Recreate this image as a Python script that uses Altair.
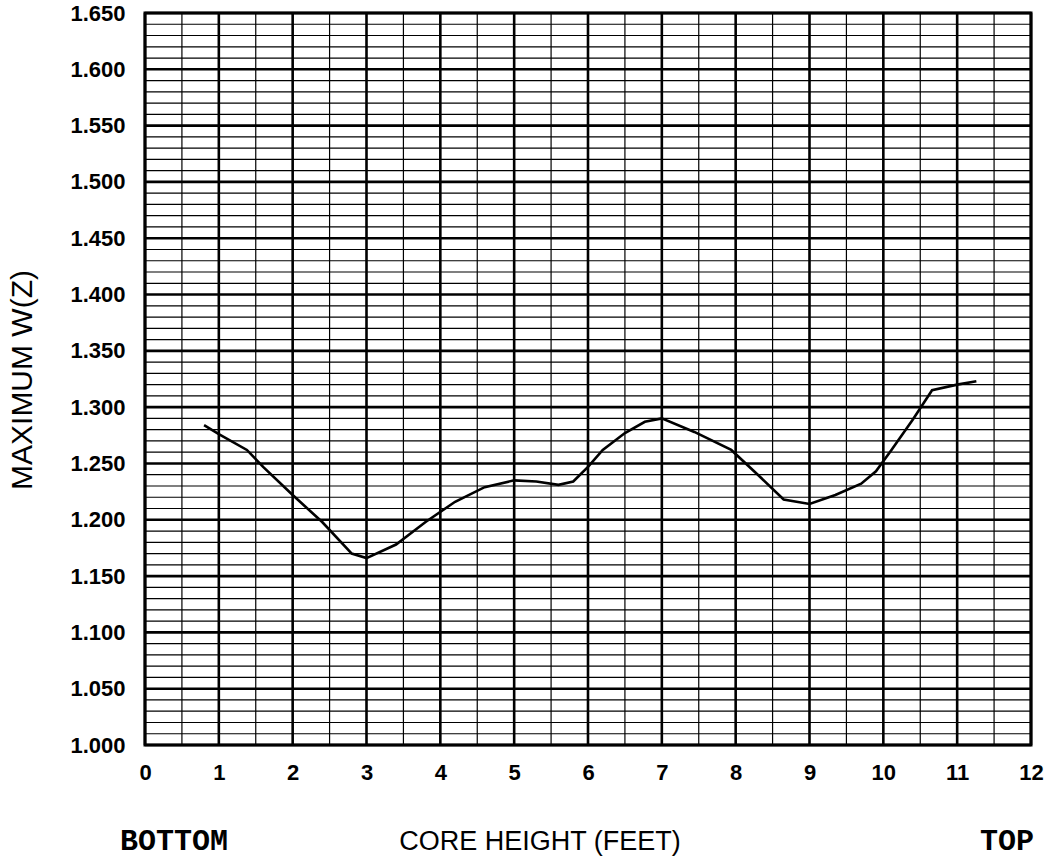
import altair as alt
import numpy as np
import pandas as pd

# Curve data (core height in feet, maximum W(Z))
height_ft = [0.8, 1.0, 1.38, 1.6, 2.0, 2.4, 2.8, 3.0, 3.4, 3.8, 4.2, 4.6, 5.0, 5.3,
             5.6, 5.8, 6.0, 6.2, 6.5, 6.77, 7.0, 7.44, 7.94, 8.3, 8.65, 9.0, 9.35,
             9.7, 9.9, 10.11, 10.4, 10.66, 11.0, 11.26]
max_wz = [1.284, 1.276, 1.262, 1.247, 1.222, 1.198, 1.170, 1.166, 1.178, 1.198,
          1.216, 1.229, 1.235, 1.234, 1.231, 1.234, 1.247, 1.262, 1.277, 1.287,
          1.290, 1.278, 1.262, 1.240, 1.218, 1.214, 1.222, 1.232, 1.243, 1.262,
          1.289, 1.315, 1.320, 1.323]

x_ticks = list(range(0, 13))
y_ticks = [round(1.0 + 0.05 * i, 3) for i in range(14)]

# grid positions
x_major = [float(v) for v in range(0, 13)]
x_minor = [v + 0.5 for v in range(0, 12)]
y_major = y_ticks
y_minor = [round(1.0 + 0.01 * i, 3) for i in range(66) if i % 5 != 0]

W, H = 886, 732
xs = alt.Scale(domain=[0, 12], nice=False, zero=False)
ys = alt.Scale(domain=[1.0, 1.65], nice=False, zero=False)

x_axis = alt.Axis(values=x_ticks, format="d", title=None, grid=False,
                  ticks=False, domain=False, labelFontSize=22,
                  labelFontWeight="bold", labelColor="black",
                  labelPadding=17, labelFlush=False)
y_axis = alt.Axis(values=y_ticks, format=".3f", title=None, grid=False,
                  ticks=False, domain=False, labelFontSize=22,
                  labelFontWeight="bold", labelColor="black",
                  labelPadding=20, labelFlush=False)

curve_df = pd.DataFrame({"x": height_ft, "y": max_wz})

curve = alt.Chart(curve_df).mark_line(color="black", strokeWidth=2.6).encode(
    x=alt.X("x:Q", scale=xs, axis=x_axis),
    y=alt.Y("y:Q", scale=ys, axis=y_axis),
)

ymin = alt.Chart(pd.DataFrame({"v": y_minor})).mark_rule(color="black", strokeWidth=1.2).encode(
    y=alt.Y("v:Q", scale=ys, axis=y_axis))
ymaj = alt.Chart(pd.DataFrame({"v": y_major})).mark_rule(color="black", strokeWidth=2.6).encode(
    y=alt.Y("v:Q", scale=ys, axis=y_axis))
xmin = alt.Chart(pd.DataFrame({"v": x_minor})).mark_rule(color="black", strokeWidth=1.2).encode(
    x=alt.X("v:Q", scale=xs, axis=x_axis))
xmaj = alt.Chart(pd.DataFrame({"v": x_major})).mark_rule(color="black", strokeWidth=2.6).encode(
    x=alt.X("v:Q", scale=xs, axis=x_axis))

def label(text, px, py, size, font, weight="normal", angle=0):
    kw = dict(fontSize=size, font=font, fontWeight=weight, color="black",
              align="center", baseline="alphabetic")
    if angle:
        kw["angle"] = angle
        kw["baseline"] = "middle"
    return alt.Chart(pd.DataFrame({"t": [text]})).mark_text(**kw).encode(
        text="t:N", x=alt.value(px), y=alt.value(py))

t_bottom = label("BOTTOM", 29, 837, 30, "Liberation Mono", "bold")
t_top = label("TOP", 862, 837, 30, "Liberation Mono", "bold")
t_xtitle = label("CORE HEIGHT (FEET)", 395, 837, 27, "Liberation Sans")
t_ytitle = label("MAXIMUM W(Z)", -122, 367, 30, "Liberation Sans", angle=270)

chart = alt.layer(
    xmin, ymin, xmaj, ymaj, curve, t_bottom, t_top, t_xtitle, t_ytitle
).resolve_axis(x="shared", y="shared").properties(
    width=W, height=H,
    autosize=alt.AutoSizeParams(type="none"),
    padding={"left": 145, "top": 13, "right": 17, "bottom": 113},
).configure(
    font="Liberation Sans",
    background="white",
).configure_view(
    stroke="black", strokeWidth=3
)

chart.save("out.html", embed_options={"renderer": "svg", "actions": False})
